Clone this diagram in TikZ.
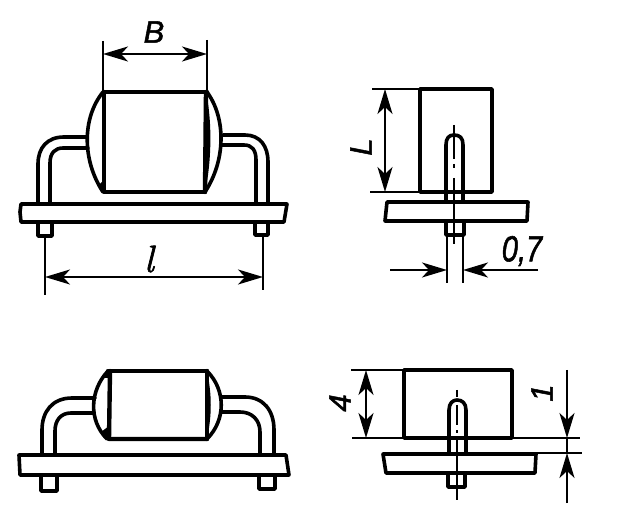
\documentclass[tikz,border=0pt]{standalone}
\usepackage{fontspec}
\setsansfont{Liberation Sans}
\newfontfamily\dimfont[FakeBold=1.6]{Liberation Sans Italic}
\newfontfamily\ellfont[FakeBold=1.8]{Latin Modern Roman 10 Italic}
\usetikzlibrary{arrows.meta}
\tikzset{
  heavy/.style={draw=black,line width=4.4pt,line join=round,line cap=round},
  medium/.style={draw=black,line width=3.6pt,line join=round,line cap=round},
  thin line/.style={draw=black,line width=2.6pt},
  dim/.style={draw=black,line width=2.2pt,-{Stealth[length=25pt,width=15pt,inset=7pt]}},
  dimboth/.style={draw=black,line width=2.2pt,{Stealth[length=25pt,width=15pt,inset=7pt]}-{Stealth[length=25pt,width=15pt,inset=7pt]}},
  lab/.style={font=\dimfont\fontsize{31}{31}\selectfont,inner sep=0pt},
  wedge/.style={fill=black,draw=none}
}
\begin{document}
\begin{tikzpicture}[x=1pt,y=-1pt]
\useasboundingbox[fill=white] (0,0) rectangle (625,508);
% ---------- top left view
\draw[heavy] (104,92) -- (207,92);
\draw[heavy] (104,92) -- (104,192) -- (205,192);
\draw[heavy] (206,92) -- (205,192);
\draw[medium] (103,92) .. controls (82,118) and (82,160) .. (103,192);
\draw[medium] (207,92) .. controls (226,118) and (226,160) .. (205,192);
\fill[wedge] (206,92) .. controls (212,120) and (212,160) .. (205,192) -- cycle;
\fill[wedge] (104,180) -- (104,192) -- (98,186) -- cycle;
\draw[medium] (86,137) -- (64,137) .. controls (47,137) and (38,148) .. (38,164) -- (38,202);
\draw[medium] (88,148) -- (63,148) .. controls (55,148) and (50,153) .. (50,163) -- (50,202);
\draw[medium] (223,135) -- (245,135) .. controls (260,135) and (268,146) .. (268,162) -- (268,202);
\draw[medium] (221,145) -- (244,145) .. controls (252,145) and (256,150) .. (256,160) -- (256,202);
\draw[medium] (21,204) -- (287,204) -- (284,222) -- (21,222) -- (20,212) -- cycle;
\draw[medium] (38,223) -- (38,236) -- (52,236) -- (52,223);
\draw[medium] (255,223) -- (255,235) -- (268,235) -- (268,223);
\coordinate (bL) at (103,54); \coordinate (bR) at (207,54);
\draw[thin line] (103,41) -- (103,92);
\draw[thin line] (207,40) -- (207,92);
\draw[dimboth] (bL) -- (bR);
\node[lab] (labB) at (154,32) {B};
\coordinate (lL) at (45,277); \coordinate (lR) at (263,277);
\draw[thin line] (45,236) -- (45,295);
\draw[thin line] (263,235) -- (263,290);
\draw[dimboth] (lL) -- (lR);
\node[inner sep=0pt,font=\ellfont\fontsize{38}{38}\selectfont] (labl) at (149,259) {l};
% ---------- top right view
\draw[medium] (420,89) rectangle (492,192);
\draw[thin line] (372,89) -- (420,89);
\draw[thin line] (370,192) -- (420,192);
\coordinate (Lt) at (385,89); \coordinate (Lb) at (385,192);
\draw[dimboth] (Lt) -- (Lb);
\node[lab,rotate=90] (labL) at (361,147) {L};
\fill[white] (446,139) rectangle (463,190);
\draw[medium] (446,200) -- (446,145) .. controls (446,138) and (449,135) .. (454,135) .. controls (460,135) and (463,138) .. (463,145) -- (463,200);
\draw[medium] (387,202) -- (528,202) -- (527,221) -- (385,221) -- cycle;
\draw[medium] (446,222) -- (446,235) -- (464,235) -- (464,222);
\draw[thin line] (454,125) -- (454,159);
\draw[thin line] (454,164) -- (454,168);
\draw[thin line] (454,178) -- (454,244);
\draw[thin line] (447,236) -- (447,283);
\draw[thin line] (463,236) -- (463,283);
\coordinate (a1) at (390,270); \coordinate (a2) at (447,270);
\coordinate (a3) at (538,270); \coordinate (a4) at (463,270);
\draw[dim] (a1) -- (a2);
\draw[dim] (a3) -- (a4);
\node[lab,font=\dimfont\fontsize{29}{29}\selectfont,yscale=1.25] (lab07) at (522,251) {0,7};
% ---------- bottom left view
\draw[heavy] (108,371) -- (207,371);
\draw[heavy] (110,371) -- (109,439) -- (207,439);
\draw[heavy] (207,371) -- (207,439);
\draw[medium] (108,371) .. controls (90,390) and (88,420) .. (107,439);
\draw[medium] (207,371) .. controls (226,390) and (226,420) .. (207,439);
\fill[wedge] (207,371) .. controls (212,395) and (212,415) .. (207,439) -- cycle;
\fill[wedge] (109,378) -- (109,371) -- (102,378) -- cycle;
\fill[wedge] (109,426) -- (109,439) -- (101,432) -- cycle;
\draw[medium] (95,398) -- (72,398) .. controls (52,398) and (42,412) .. (42,430) -- (42,454);
\draw[medium] (93,413) -- (71,413) .. controls (61,413) and (55,420) .. (55,431) -- (55,454);
\draw[medium] (222,397) -- (245,397) .. controls (263,397) and (274,410) .. (274,430) -- (274,454);
\draw[medium] (222,412) -- (240,412) .. controls (252,412) and (260,420) .. (260,432) -- (260,454);
\draw[medium] (19,455) -- (286,455) -- (289,475) -- (20,475) -- cycle;
\draw[medium] (41,476) -- (41,491) -- (57,491) -- (57,476);
\draw[medium] (259,476) -- (259,489) -- (275,489) -- (275,476);
% ---------- bottom right view
\draw[medium] (404,370) rectangle (512,438);
\draw[thin line] (351,370) -- (404,370);
\draw[thin line] (352,438) -- (404,438);
\coordinate (ft) at (366,370); \coordinate (fb) at (366,438);
\draw[dimboth] (ft) -- (fb);
\node[lab,rotate=90] (lab4) at (340,403) {4};
\fill[white] (449,405) rectangle (466,436);
\draw[medium] (449,453) -- (449,410) .. controls (449,403) and (453,400) .. (457,400) .. controls (462,400) and (466,403) .. (466,410) -- (466,453);
\draw[medium] (383,454) -- (536,454) -- (535,473) -- (386,473) -- cycle;
\draw[medium] (448,474) -- (448,487) -- (465,487) -- (465,474);
\draw[thin line] (457,390) -- (457,397);
\draw[thin line] (457,405) -- (457,425);
\draw[thin line] (457,430) -- (457,433);
\draw[thin line] (457,438) -- (457,500);
\draw[thin line] (512,438) -- (580,438);
\draw[thin line] (536,453) -- (582,453);
\draw[thin line] (567,438) -- (567,453);
\coordinate (ot) at (567,370); \coordinate (ob) at (567,438);
\coordinate (ut) at (567,503); \coordinate (ub) at (567,453);
\draw[dim] (ot) -- (ob);
\draw[dim] (ut) -- (ub);
\node[lab,rotate=90] (lab1) at (542,393) {1};
\end{tikzpicture}
\end{document}
